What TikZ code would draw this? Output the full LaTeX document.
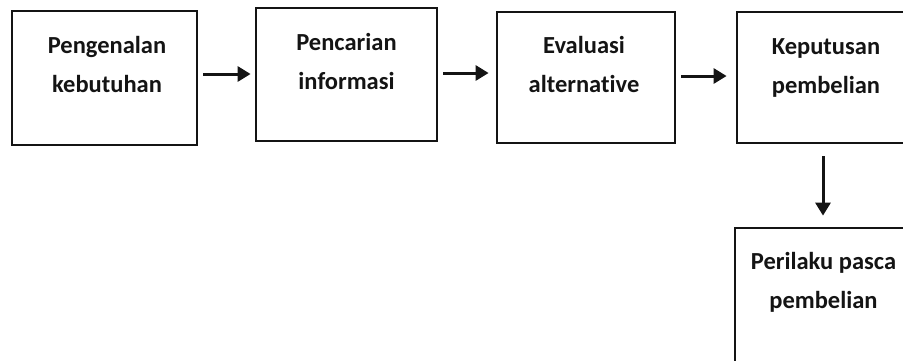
\documentclass[tikz,border=0pt]{standalone}
\usepackage{fontspec}
\setmainfont{Carlito}[Ligatures=NoCommon]
\usetikzlibrary{arrows.meta}
\begin{document}
\begin{tikzpicture}[x=1pt,y=-1pt,
  stage/.style={draw=black!92,line width=2.8pt,rectangle,inner sep=0pt},
  lbl/.style={align=center,inner sep=0pt,font=\fontsize{24.5}{39}\selectfont\bfseries,text=black!92},
  arr/.style={draw=black!92,line width=3pt,-{Triangle[length=13pt,width=15pt]}}]
\useasboundingbox (0,0) rectangle (903,360);
\clip (0,0) rectangle (903,360);
\fill[white] (0,0) rectangle (903,360);
\node[stage,minimum width=185pt,minimum height=134pt] (b1) at (104.5,78) {};
\node[stage,minimum width=181pt,minimum height=133pt] (b2) at (346.5,74.5) {};
\node[stage,minimum width=178pt,minimum height=131pt] (b3) at (586,77.5) {};
\node[stage,minimum width=169pt,minimum height=131pt] (b4) at (821.5,77.5) {};
\node[stage,minimum width=171pt,minimum height=137pt] (b5) at (820.5,296.5) {};
\node[lbl] (t1) at (107,64.7) {\strut Pengenalan\\\strut kebutuhan};
\node[lbl] (t2) at (346.5,62.2) {\strut Pencarian\\\strut informasi};
\node[lbl] (t3) at (584,64.7) {\strut Evaluasi\\\strut alternative};
\node[lbl] (t4) at (826,66.2) {\strut Keputusan\\\strut pembelian};
\node[lbl] (t5) at (823.5,281.2) {\strut Perilaku pasca\\\strut pembelian};
\draw[arr] ([shift={(5,-4)}]b1.east) -- ([shift={(-4,-0.5)}]b2.west);
\draw[arr] ([shift={(5,-1.5)}]b2.east) -- ([shift={(-7,-4.5)}]b3.west);
\draw[arr] ([shift={(5,-1.5)}]b3.east) -- ([shift={(-9,-1.5)}]b4.west);
\draw[arr] ([shift={(1.5,12)}]b4.south) -- ([shift={(2.5,-11)}]b5.north);
\end{tikzpicture}
\end{document}
